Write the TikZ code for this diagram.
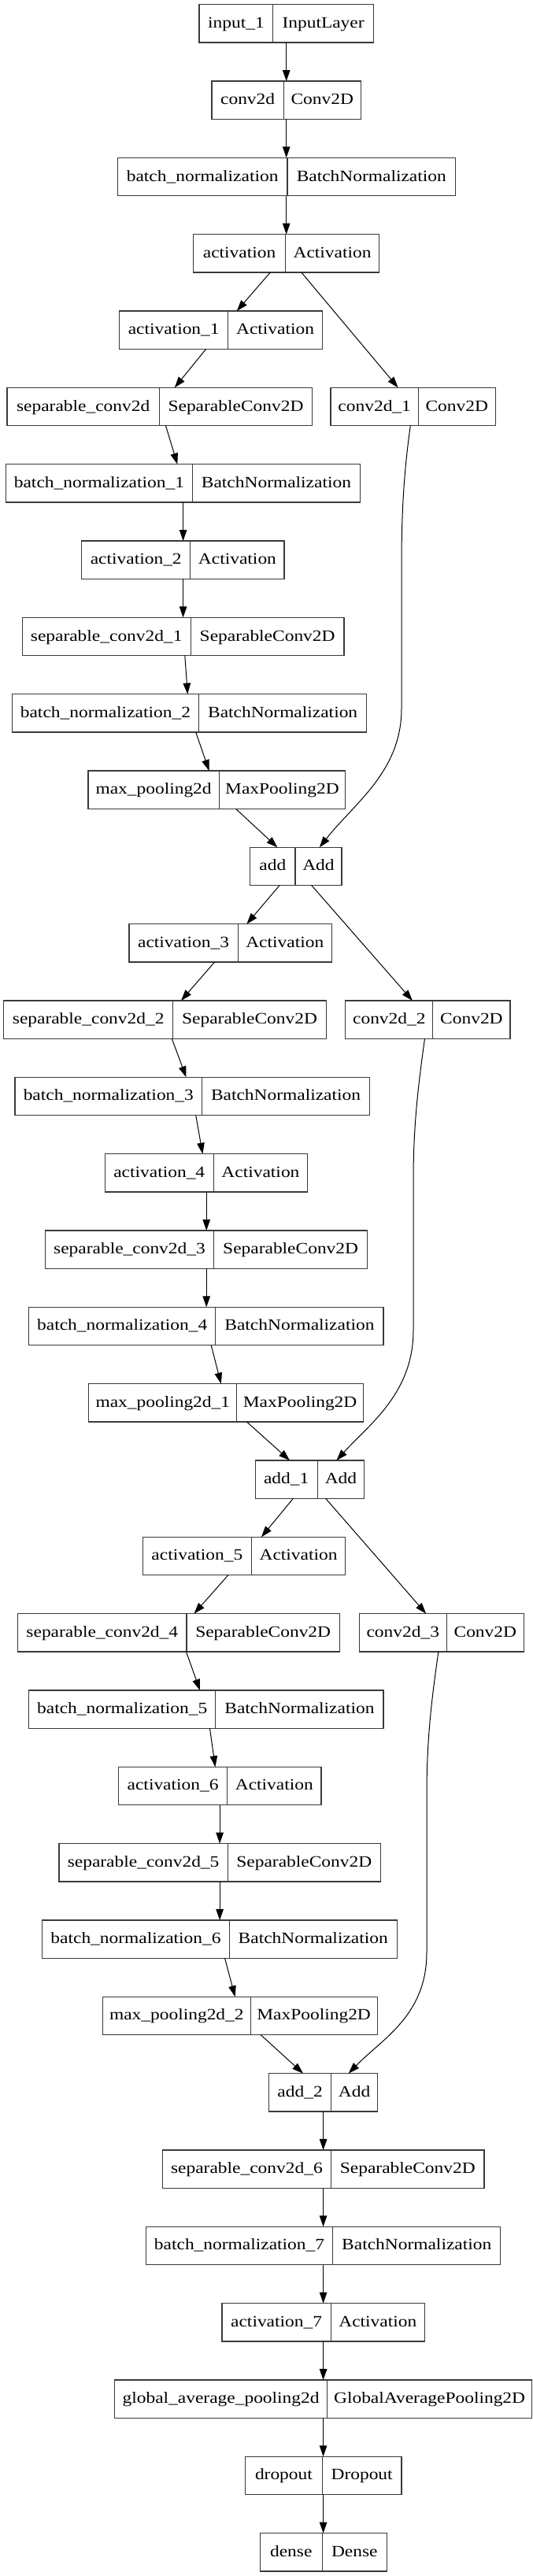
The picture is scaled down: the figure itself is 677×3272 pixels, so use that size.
\documentclass[tikz,border=0pt]{standalone}
\usepackage{fontspec}
\setmainfont{Liberation Serif}[FakeStretch=1.166]
\usetikzlibrary{arrows.meta}
\definecolor{boxgray}{HTML}{3A3A3A}
\tikzset{
  recnode/.style={draw=boxgray, line width=1.3pt, minimum height=48.3pt, inner sep=0pt, outer sep=0pt, fill=white},
  recline/.style={draw=boxgray, line width=1.1pt},
  lab/.style={anchor=base, inner sep=0pt, font=\fontsize{20.1pt}{24pt}\selectfont},
  arr/.style={draw=black, line width=1pt, -{Triangle[length=14pt,width=9.5pt]}}
}
\newcommand\recbox[7]{%
  \node[recnode, minimum width={(#5-#3)*1pt}] (#1) at ({(#3+#5)/2},{29.85+97.33*#2}) {};
  \draw[recline] (#1.north -| #4,0) -- (#1.south -| #4,0);
  \node[lab] at ({(#3+#4)/2},{35.35+97.33*#2}) {#6};
  \node[lab] at ({(#4+#5)/2},{35.35+97.33*#2}) {#7};
}
\newcommand\vedge[3]{\draw[arr] (#1.south -| #2,0) -- (#3.north -| #2,0);}
\newcommand\dedge[4]{\draw[arr] (#1.south -| #2,0) -- (#3.north -| #4,0);}
\begin{document}
\begin{tikzpicture}[x=1pt,y=-1pt]
\fill[white] (0,0) rectangle (677,3272);
\useasboundingbox (0,0) rectangle (677,3272);
\recbox{in1}{0}{253.0}{346.8}{474.4}{input\_1}{InputLayer}
\recbox{c2d}{1}{269.1}{360.2}{458.3}{conv2d}{Conv2D}
\recbox{bn0}{2}{149.3}{365.0}{578.6}{batch\_normalization}{BatchNormalization}
\recbox{act0}{3}{245.7}{362.4}{481.8}{activation}{Activation}
\recbox{act1}{4}{151.5}{289.9}{409.3}{activation\_1}{Activation}
\recbox{sep0}{5}{9.1}{202.3}{396.7}{separable\_conv2d}{SeparableConv2D}
\recbox{c2d1}{5}{420.1}{531.3}{629.3}{conv2d\_1}{Conv2D}
\recbox{bn1}{6}{7.4}{244.4}{457.5}{batch\_normalization\_1}{BatchNormalization}
\recbox{act2}{7}{103.7}{241.8}{361.1}{activation\_2}{Activation}
\recbox{sep1}{8}{28.2}{242.2}{437.1}{separable\_conv2d\_1}{SeparableConv2D}
\recbox{bn2}{9}{15.2}{252.6}{465.7}{batch\_normalization\_2}{BatchNormalization}
\recbox{mp0}{10}{112.0}{278.2}{438.8}{max\_pooling2d}{MaxPooling2D}
\recbox{add0}{11}{317.7}{375.0}{434.0}{add}{Add}
\recbox{act3}{12}{164.0}{302.1}{421.4}{activation\_3}{Activation}
\recbox{sep2}{13}{4.8}{219.6}{414.5}{separable\_conv2d\_2}{SeparableConv2D}
\recbox{c2d2}{13}{438.8}{549.9}{648.0}{conv2d\_2}{Conv2D}
\recbox{bn3}{14}{19.1}{256.5}{469.6}{batch\_normalization\_3}{BatchNormalization}
\recbox{act4}{15}{133.2}{271.3}{390.6}{activation\_4}{Activation}
\recbox{sep3}{16}{57.3}{271.7}{466.6}{separable\_conv2d\_3}{SeparableConv2D}
\recbox{bn4}{17}{36.5}{273.9}{487.0}{batch\_normalization\_4}{BatchNormalization}
\recbox{mp1}{18}{112.8}{300.8}{461.4}{max\_pooling2d\_1}{MaxPooling2D}
\recbox{add1}{19}{324.2}{403.2}{462.7}{add\_1}{Add}
\recbox{act5}{20}{181.4}{319.4}{438.8}{activation\_5}{Activation}
\recbox{sep4}{21}{22.6}{237.0}{431.4}{separable\_conv2d\_4}{SeparableConv2D}
\recbox{c2d3}{21}{456.2}{567.3}{665.4}{conv2d\_3}{Conv2D}
\recbox{bn5}{22}{36.5}{273.9}{487.0}{batch\_normalization\_5}{BatchNormalization}
\recbox{act6}{23}{150.6}{288.6}{408.0}{activation\_6}{Activation}
\recbox{sep5}{24}{75.1}{289.1}{483.5}{separable\_conv2d\_5}{SeparableConv2D}
\recbox{bn6}{25}{53.8}{291.2}{504.3}{batch\_normalization\_6}{BatchNormalization}
\recbox{mp2}{26}{130.6}{318.1}{479.2}{max\_pooling2d\_2}{MaxPooling2D}
\recbox{add2}{27}{341.6}{420.6}{479.6}{add\_2}{Add}
\recbox{sep6}{28}{206.2}{420.6}{615.0}{separable\_conv2d\_6}{SeparableConv2D}
\recbox{bn7}{29}{185.3}{422.7}{635.8}{batch\_normalization\_7}{BatchNormalization}
\recbox{act7}{30}{282.1}{420.1}{539.5}{activation\_7}{Activation}
\recbox{gap}{31}{145.8}{415.4}{675.8}{global\_average\_pooling2d}{GlobalAveragePooling2D}
\recbox{drop}{32}{311.6}{409.3}{510.0}{dropout}{Dropout}
\recbox{dense}{33}{330.3}{409.3}{491.3}{dense}{Dense}
% edges
\vedge{in1}{363.7}{c2d}
\vedge{c2d}{363.7}{bn0}
\vedge{bn0}{363.7}{act0}
\dedge{act0}{343.3}{act1}{300.8}
\dedge{act0}{382.8}{c2d1}{505.6}
\dedge{act1}{261.7}{sep0}{221.8}
\dedge{sep0}{210.5}{bn1}{225.3}
\vedge{bn1}{232.6}{act2}
\vedge{act2}{232.6}{sep1}
\dedge{sep1}{234.8}{bn2}{238.3}
\dedge{bn2}{248.7}{mp0}{265.6}
\dedge{mp0}{299.5}{add0}{352.4}
\draw[arr] (c2d1.south -| 521.3,0) .. controls (513,600) and (510,650) .. (510,720) -- (510,900) .. controls (510,980) and (450,1020) .. (add0.north -| 405.8,0);
\dedge{add0}{355.0}{act3}{313.4}
\dedge{add0}{395.8}{c2d2}{523.9}
\dedge{act3}{272.6}{sep2}{230.0}
\dedge{sep2}{218.3}{bn3}{236.5}
\dedge{bn3}{248.7}{act4}{257.4}
\vedge{act4}{262.2}{sep3}
\vedge{sep3}{262.2}{bn4}
\dedge{bn4}{268.2}{mp1}{280.8}
\dedge{mp1}{313.4}{add1}{368.0}
\draw[arr] (c2d2.south -| 539.5,0) .. controls (531,1380) and (525,1430) .. (525,1500) -- (525,1690) .. controls (525,1770) and (468,1810) .. (add1.north -| 427.5,0);
\dedge{add1}{372.4}{act5}{332.0}
\dedge{add1}{413.6}{c2d3}{541.2}
\dedge{act5}{289.9}{sep4}{246.5}
\dedge{sep4}{236.5}{bn5}{253.9}
\dedge{bn5}{266.5}{act6}{273.4}
\vedge{act6}{279.1}{sep5}
\vedge{sep5}{279.1}{bn6}
\dedge{bn6}{285.6}{mp2}{298.6}
\dedge{mp2}{331.2}{add2}{385.0}
\draw[arr] (c2d3.south -| 556.9,0) .. controls (548,2160) and (542,2210) .. (542,2280) -- (542,2480) .. controls (542,2560) and (485,2590) .. (add2.north -| 442.7,0);
\vedge{add2}{410.6}{sep6}
\vedge{sep6}{410.6}{bn7}
\vedge{bn7}{410.6}{act7}
\vedge{act7}{410.6}{gap}
\vedge{gap}{410.6}{drop}
\vedge{drop}{410.6}{dense}
\end{tikzpicture}
\end{document}
